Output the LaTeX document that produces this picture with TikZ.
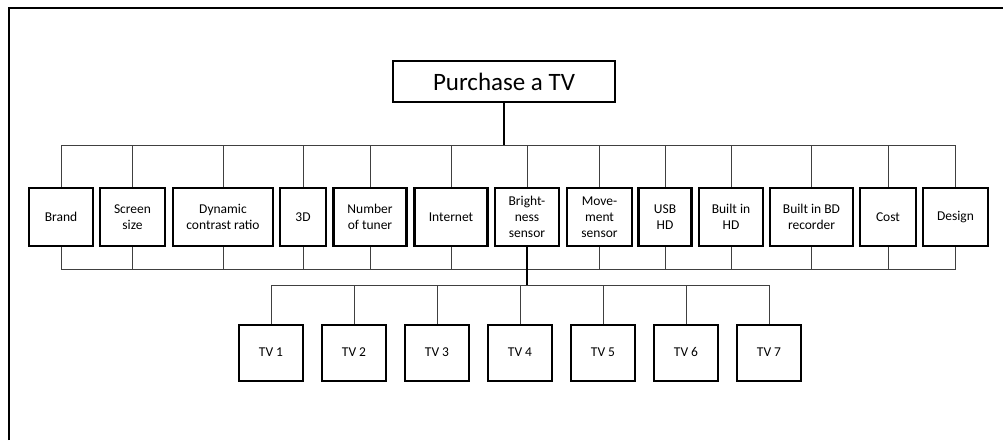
\documentclass[tikz,border=0pt]{standalone}
\usepackage{fontspec}
\setmainfont{Carlito}
\begin{document}
\begin{tikzpicture}[x=1pt, y=-1pt,
  crit/.style={draw, line width=2.8pt, minimum height=58pt, inner sep=0pt, align=center, font=\fontsize{13.5}{16}\selectfont},
  alt/.style={draw, line width=2.8pt, minimum width=64pt, minimum height=56pt, inner sep=0pt, text height=9.5pt, text depth=2.5pt, font=\fontsize{13.5}{16}\selectfont},
  conn/.style={draw=black!75, line width=0.9pt},
  trunk/.style={draw=black, line width=1.8pt}]
  \useasboundingbox (0,0) rectangle (1003,440);
  \draw[line width=1.6pt] (9,440) -- (9,8) -- (1003,8);
  % goal
  \node[draw, line width=2.8pt, minimum width=222pt, minimum height=41pt, font=\fontsize{25}{30}\selectfont] (goal) at (504,81.5) {Purchase a TV};
  \coordinate (bus) at (504,145);
  \coordinate (lowbus) at (527,269);
  \coordinate (tvbus) at (527,285);
  % criteria
  \node[crit, minimum width=64pt] (brand) at (61,217) {Brand};
  \node[crit, minimum width=65pt] (screen) at (132.5,217) {Screen\\size};
  \node[crit, minimum width=100pt] (contrast) at (223,217) {Dynamic\\contrast ratio};
  \node[crit, minimum width=46pt] (threed) at (303,217) {3D};
  \node[crit, minimum width=73pt] (tuner) at (370,217) {Number\\of tuner};
  \node[crit, minimum width=73pt] (internet) at (451,217) {Internet};
  \node[crit, minimum width=64pt] (bright) at (527,217) {Bright-\\ness\\sensor};
  \node[crit, minimum width=65pt] (move) at (599.5,217) {Move-\\ment\\sensor};
  \node[crit, minimum width=53pt] (usb) at (665,217) {USB\\HD};
  \node[crit, minimum width=64pt] (builthd) at (731,217) {Built in\\HD};
  \node[crit, minimum width=83pt] (bdrec) at (811.5,217) {Built in BD\\recorder};
  \node[crit, minimum width=56pt] (cost) at (888,217) {Cost};
  \node[crit, minimum width=65pt] (design) at (955.5,217) {Design};
  % alternatives
  \foreach \i/\x in {1/271, 2/354, 3/437, 4/520, 5/603, 6/686, 7/769}
    \node[alt] (tv\i) at (\x,353) {TV \i};
  % connectors
  \draw[trunk] (goal.south) -- (bus);
  \foreach \c in {brand, screen, contrast, threed, tuner, internet, bright, move, usb, builthd, bdrec, cost, design} {
    \draw[conn] (\c.north) |- (bus);
    \draw[conn] (\c.south) |- (lowbus);
  }
  \draw[trunk] (bright.south) -- (tvbus);
  \foreach \i in {1,...,7}
    \draw[conn] (tv\i.north) |- (tvbus);
\end{tikzpicture}
\end{document}
